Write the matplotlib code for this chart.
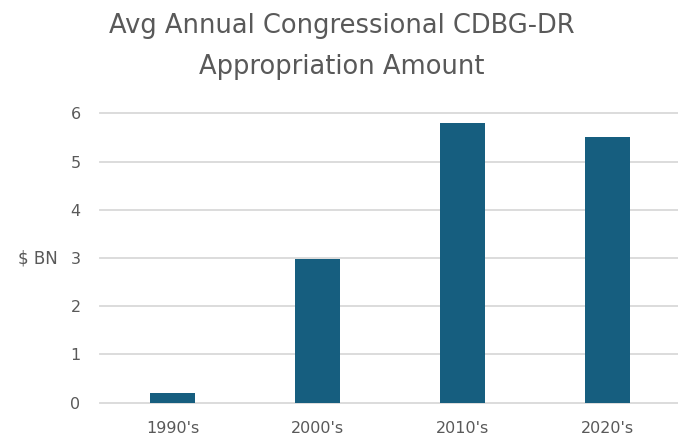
import matplotlib
matplotlib.use("Agg")
import matplotlib.pyplot as plt

decades = ["1990's", "2000's", "2010's", "2020's"]
amounts_bn = [0.2, 2.97, 5.8, 5.5]
y_ticks = [0, 1, 2, 3, 4, 5, 6]

bar_color = "#165E7F"
grid_color = "#D9D9D9"
text_color = "#595959"

fig = plt.figure(figsize=(6.78, 4.37), dpi=100)
ax = fig.add_axes([100 / 678, 34.3 / 437, 580 / 678, 289.4 / 437])

x = list(range(len(decades)))
ax.bar(x, amounts_bn, width=0.31, color=bar_color, zorder=3)

ax.set_xlim(-0.5, len(decades) - 0.5)
ax.set_ylim(0, 6)
ax.set_yticks(y_ticks)
ax.set_xticks(x)
ax.set_xticklabels(decades)

ax.yaxis.grid(True, color=grid_color, linewidth=1.3, zorder=0)
for gl in ax.get_ygridlines():
    gl.set_clip_on(False)
ax.set_axisbelow(True)
for s in ax.spines.values():
    s.set_visible(False)
ax.tick_params(axis="both", length=0, colors=text_color, labelsize=11.5)
ax.tick_params(axis="y", pad=14)
ax.tick_params(axis="x", pad=13)
for lab in ax.get_xticklabels() + ax.get_yticklabels():
    lab.set_fontfamily("DejaVu Sans")

ax.set_ylabel("$ BN", rotation=0, fontsize=12, color=text_color,
              fontfamily="DejaVu Sans", va="center", ha="right")
ax.yaxis.set_label_coords(-42 / 580, 0.5)

fig.text(342 / 678, 1 - 26 / 437, "Avg Annual Congressional CDBG-DR",
         ha="center", va="center", fontsize=18.5, color=text_color,
         fontfamily="DejaVu Sans")
fig.text(342 / 678, 1 - 67 / 437, "Appropriation Amount",
         ha="center", va="center", fontsize=18.5, color=text_color,
         fontfamily="DejaVu Sans")

fig.savefig("out.png", dpi=100, facecolor="white")
